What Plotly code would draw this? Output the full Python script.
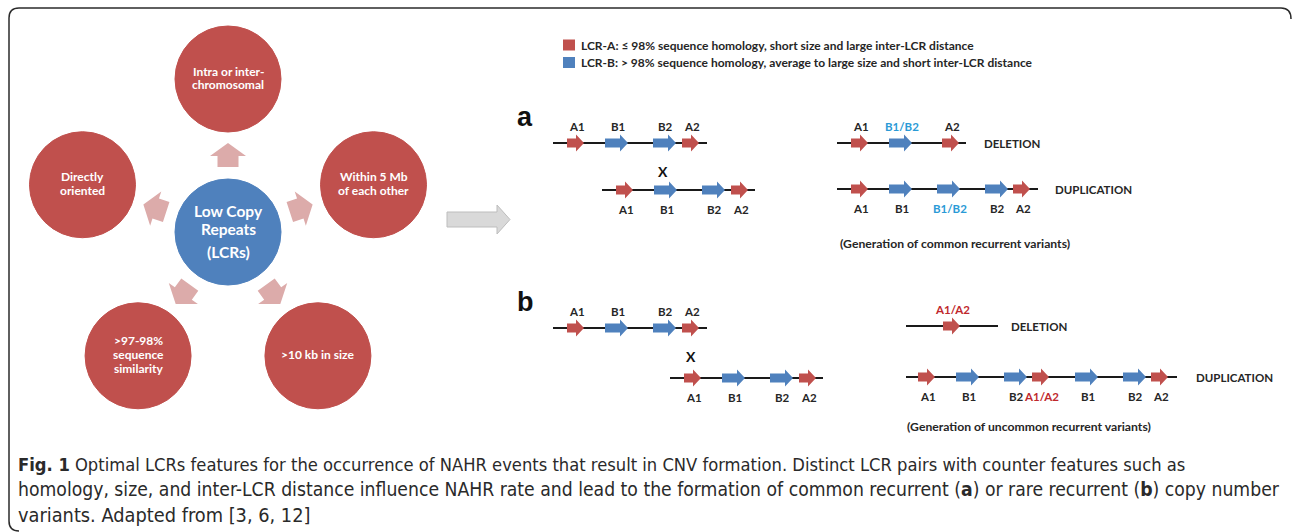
import math
import plotly.graph_objects as go

W, H = 1292, 532

# ---------------- data (labels / content) ----------------
HUB_LABEL = ["Low Copy", "Repeats", "(LCRs)"]
FEATURE_LABELS = [
    ["Intra or inter-", "chromosomal"],
    ["Within 5 Mb", "of each other"],
    [">10 kb in size"],
    [">97-98%", "sequence", "similarity"],
    ["Directly", "oriented"],
]
FEATURE_ANGLES = [90, 18, -54, -126, 162]

LEGEND_LABELS = [
    "LCR-A: ≤ 98% sequence homology, short size and large inter-LCR distance",
    "LCR-B: > 98% sequence homology, average to large size and short inter-LCR distance",
]

A_PARENT = ["A1", "B1", "B2", "A2"]
A_DELETION = ["A1", "B1/B2", "A2"]
A_DUPLICATION = ["A1", "B1", "B1/B2", "B2", "A2"]
B_PARENT = ["A1", "B1", "B2", "A2"]
B_DELETION = ["A1/A2"]
B_DUPLICATION = ["A1", "B1", "B2", "A1/A2", "B1", "B2", "A2"]

EVENT_LABELS = ["DELETION", "DUPLICATION"]
NOTE_A = "(Generation of common recurrent variants)"
NOTE_B = "(Generation of uncommon recurrent variants)"

CAPTION_LINES = [
    "<b>Fig. 1</b> Optimal LCRs features for the occurrence of NAHR events that result in CNV formation. Distinct LCR pairs with counter features such as",
    "homology, size, and inter-LCR distance influence NAHR rate and lead to the formation of common recurrent (<b>a</b>) or rare recurrent (<b>b</b>) copy number",
    "variants. Adapted from [3, 6, 12]",
]
CAPTION_SIZES = [18.2, 19.2, 19.8]

# ---------------- styles ----------------
RED = "#C0504D"
BLUE = "#4F81BD"
PINK = "#DCABAA"
DARK = "#262626"
LBLUE = "#2A9AD6"
DRED = "#C0282D"
FONT = "Lato, 'Open Sans', sans-serif"
CAP_FONT = "'DejaVu Sans Condensed', 'Liberation Sans Narrow', 'Liberation Sans', sans-serif"

shapes = []
ann = []


def text(x, y, s, size=11, color=DARK, bold=True, xanchor="center", family=FONT):
    ann.append(dict(x=x, y=y, xref="x", yref="y", text=(f"<b>{s}</b>" if bold else s),
                    showarrow=False, xanchor=xanchor, yanchor="middle",
                    font=dict(family=family, size=size, color=color)))


def poly(pts, fill, line=None, lw=0):
    d = "M " + " L ".join(f"{x:.2f},{y:.2f}" for x, y in pts) + " Z"
    shapes.append(dict(type="path", path=d, xref="x", yref="y", fillcolor=fill,
                       line=dict(color=line or fill, width=lw), layer="above"))


# ---------------- frame ----------------
shapes.append(dict(type="path", xref="x", yref="y",
                   path="M 1291,19 Q 1291,8 1281,8 L 19,8 Q 9,8 9,18 L 9,521 Q 9,531 19,531",
                   line=dict(color="#2b2b2b", width=1.5)))

# ---------------- left radial diagram ----------------
CX, CY, R, DIST = 228, 232, 53, 153
shapes.append(dict(type="circle", xref="x", yref="y", x0=CX - R, x1=CX + R, y0=CY - R, y1=CY + R,
                   fillcolor=BLUE, line=dict(color=BLUE, width=1)))
text(CX, 211, HUB_LABEL[0], 15.5, "white")
text(CX, 229, HUB_LABEL[1], 15.5, "white")
text(CX, 252, HUB_LABEL[2], 15.5, "white")

for lab, ang in zip(FEATURE_LABELS, FEATURE_ANGLES):
    t = math.radians(ang)
    ux, uy = math.cos(t), -math.sin(t)
    nx, ny = math.sin(t), math.cos(t)
    fx, fy = CX + DIST * ux, CY + DIST * uy
    shapes.append(dict(type="circle", xref="x", yref="y", x0=fx - R, x1=fx + R, y0=fy - R, y1=fy + R,
                       fillcolor=RED, line=dict(color=RED, width=1)))
    n = len(lab)
    for i, s in enumerate(lab):
        text(fx, fy - 1 + (i - (n - 1) / 2) * 13.8, s, 12, "white")
    # pink block arrow
    local = [(65, -10.5), (76, -10.5), (76, -18), (89, 0), (76, 18), (76, 10.5), (65, 10.5)]
    pts = [(CX + r * ux + w * nx, CY + r * uy + w * ny) for r, w in local]
    poly(pts, PINK)

# big gray arrow
poly([(447, 212), (497, 212), (497, 205), (510, 219.5), (497, 234), (497, 227), (447, 227)],
     "#D9D9D9", "#BDBDBD", 1)

# ---------------- legend ----------------
for i, (lab, col) in enumerate(zip(LEGEND_LABELS, [RED, BLUE])):
    y = 45 + i * 17.5
    shapes.append(dict(type="rect", xref="x", yref="y", x0=563, x1=575, y0=y - 5.5, y1=y + 5.5,
                       fillcolor=col, line=dict(color=col, width=0)))
    text(579, y, lab, 12, DARK, xanchor="left")


# ---------------- LCR rows ----------------
def row(labels, starts, y, x0, x1, above, special=False):
    shapes.append(dict(type="line", xref="x", yref="y", x0=x0, x1=x1, y0=y, y1=y,
                       line=dict(color="#1a1a1a", width=2)))
    for lab, s in zip(labels, starts):
        is_a = lab.startswith("A")
        col = RED if is_a else BLUE
        L = 17 if is_a else 23
        hl = 8
        pts = [(s, y - 4.5), (s + L - hl, y - 4.5), (s + L - hl, y - 8.5), (s + L, y),
               (s + L - hl, y + 8.5), (s + L - hl, y + 4.5), (s, y + 4.5)]
        poly(pts, col)
        tc = DARK
        if special and "/" in lab:
            tc = DRED if is_a else LBLUE
        ty = y - 17 if above else y + 19
        text(s + L / 2 + 1, ty, lab, 11.5, tc)


# panel a
text(525, 117, "a", 27, "#111", family="Arial, 'Liberation Sans', sans-serif")
row(A_PARENT, [567, 605, 653, 682], 143, 553, 707, True)
text(663, 171, "X", 14, "#111")
row(A_PARENT, [s + 49 for s in [567, 605, 653, 682]], 190, 602, 755, False)
row(A_DELETION, [851, 889, 942], 143, 837, 966, True, True)
row(A_DUPLICATION, [851, 889, 937, 985, 1013], 189, 837, 1038, False, True)
text(982, 143, EVENT_LABELS[0], 11.5, DARK, xanchor="left")
text(1053, 189, EVENT_LABELS[1], 11.5, DARK, xanchor="left")
text(838, 243, NOTE_A, 12.2, DARK, xanchor="left")

# panel b
text(525, 302, "b", 27, "#111", family="Arial, 'Liberation Sans', sans-serif")
row(B_PARENT, [567, 605, 653, 682], 328, 553, 707, True)
text(691, 356, "X", 14, "#111")
row(B_PARENT, [s + 117 for s in [567, 605, 653, 682]], 378, 670, 823, False)
row(B_DELETION, [943], 326, 906, 998, True, True)
row(B_DUPLICATION, [918, 956, 1004, 1032, 1075, 1123, 1151], 377, 906, 1177, False, True)
text(1009, 326, EVENT_LABELS[0], 11.5, DARK, xanchor="left")
text(1194, 377, EVENT_LABELS[1], 11.5, DARK, xanchor="left")
text(905, 426, NOTE_B, 12.2, DARK, xanchor="left")

# ---------------- caption ----------------
for i, (s, fs) in enumerate(zip(CAPTION_LINES, CAPTION_SIZES)):
    ann.append(dict(x=16, y=464 + i * 25.5, xref="x", yref="y", text=s, showarrow=False,
                    xanchor="left", yanchor="middle",
                    font=dict(family=CAP_FONT, size=fs, color="#2a2a2a")))

fig = go.Figure()
fig.add_trace(go.Scatter(x=[0, W], y=[0, H], mode="markers", marker=dict(opacity=0),
                         hoverinfo="skip", showlegend=False))
fig.update_layout(
    width=W, height=H, margin=dict(l=0, r=0, t=0, b=0),
    paper_bgcolor="white", plot_bgcolor="white",
    xaxis=dict(range=[0, W], visible=False, fixedrange=True),
    yaxis=dict(range=[H, 0], visible=False, fixedrange=True),
    shapes=shapes, annotations=ann, showlegend=False,
)
fig.write_html("out.html", config={"displayModeBar": False},
               post_script="document.body.style.margin='0';document.body.style.overflow='hidden';")
